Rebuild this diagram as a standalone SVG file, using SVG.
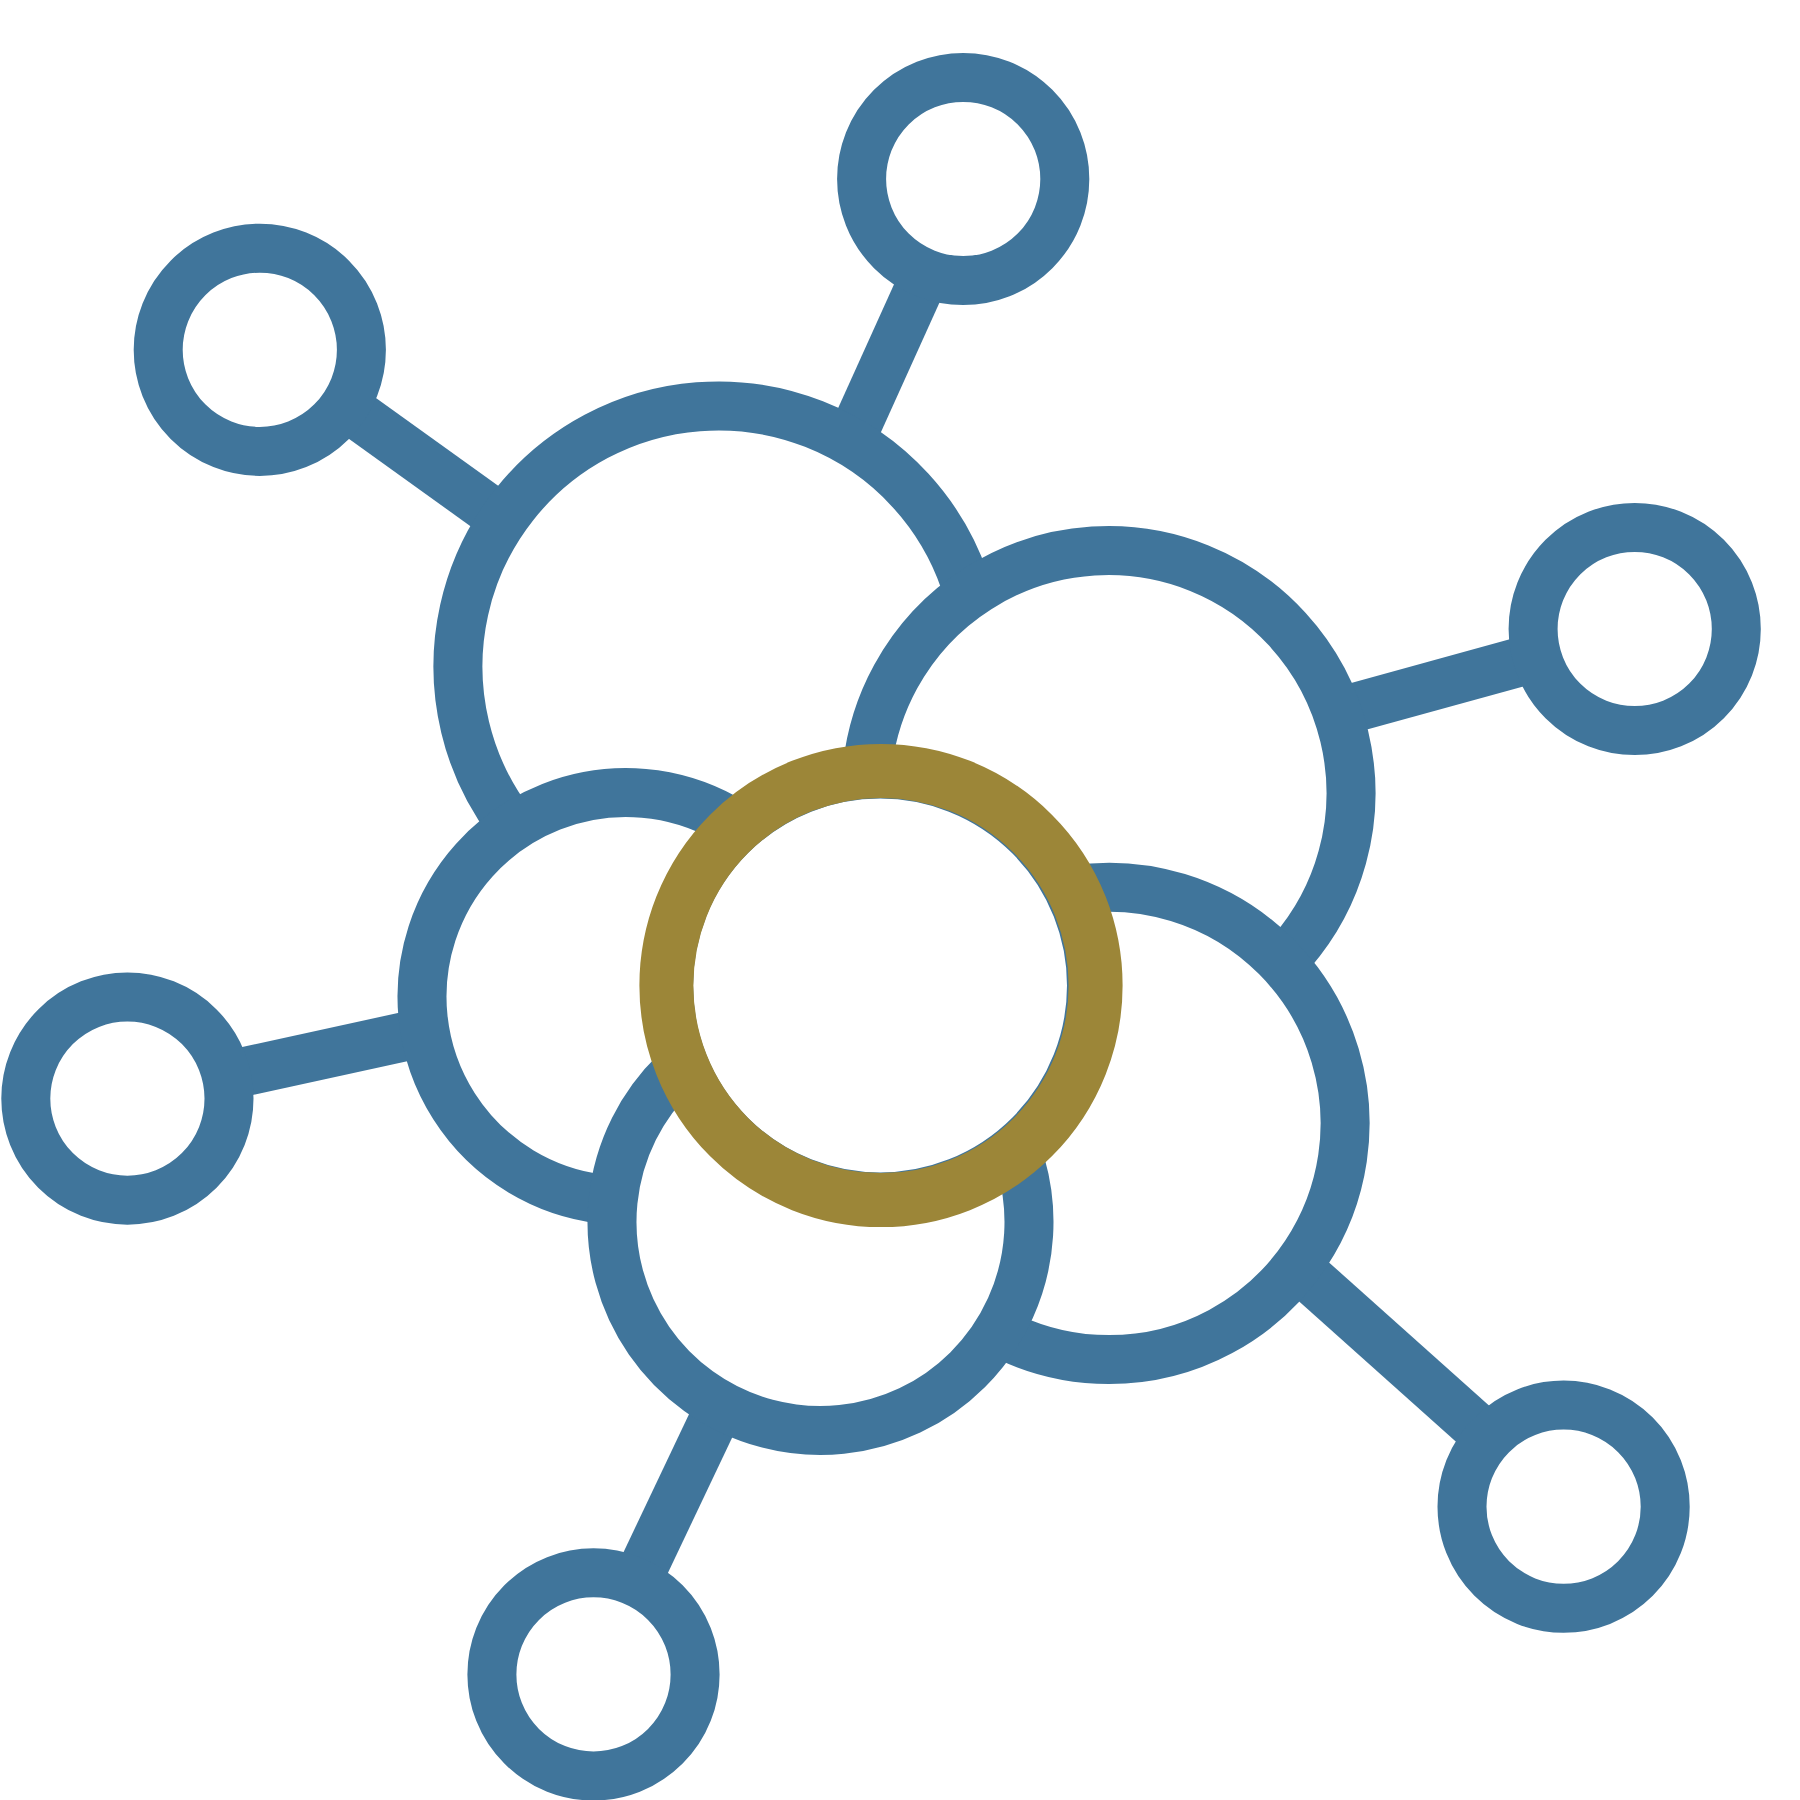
<svg xmlns="http://www.w3.org/2000/svg" width="1800" height="1800" viewBox="0 0 1800 1800">
<style>
.b{fill:none;stroke:#40759b;stroke-width:49}
.g{fill:none;stroke:#9c8638;stroke-width:54}
</style>
<rect width="1800" height="1800" fill="#fff"/>
<g id="connectors" class="b">
<path d="M926 273L851 439"/>
<path d="M348.100 408.200L502.500 519"/>
<path d="M1340.500 711.300L1535.300 657.700"/>
<path d="M227.900 1075.300L422.500 1032.700"/>
<path d="M719.200 1407.700L637.200 1580.500"/>
<path d="M1299 1268.500L1487.200 1436.800"/>
</g>
<g id="node-top"><circle class="b" cx="963.200" cy="179" r="101.600"/></g>
<g id="node-top-left"><circle class="b" cx="259.800" cy="349.800" r="101.600"/></g>
<g id="node-right"><circle class="b" cx="1634.700" cy="629" r="101.600"/></g>
<g id="node-left"><circle class="b" cx="127.400" cy="1098.600" r="101.600"/></g>
<g id="node-bottom"><circle class="b" cx="593.500" cy="1674.400" r="101.600"/></g>
<g id="node-bottom-right"><circle class="b" cx="1563.600" cy="1506.700" r="101.600"/></g>
<g id="node-a"><path class="b" d="M510.500 823.300A260.500 260.500 0 1 1 964.800 581.700"/></g>
<g id="node-b"><path class="b" d="M1291.500 952.100A242.500 242.500 0 1 0 866.300 780.300"/></g>
<g id="node-c"><path class="b" d="M601.100 1199A204 204 0 1 1 724.900 818.100"/></g>
<g id="node-d"><path class="b" d="M1075.400 889.600A236.200 236.200 0 1 1 1008.900 1337.400"/></g>
<g id="node-e"><path class="b" d="M1020.900 1164.500A208.500 208.500 0 1 1 675.700 1072"/></g>
<g id="node-center">
<circle cx="880" cy="985.500" r="209.500" fill="none" stroke="#40759b" stroke-width="45"/>
<circle class="g" cx="881" cy="985.500" r="214.600"/>
</g>
</svg>
